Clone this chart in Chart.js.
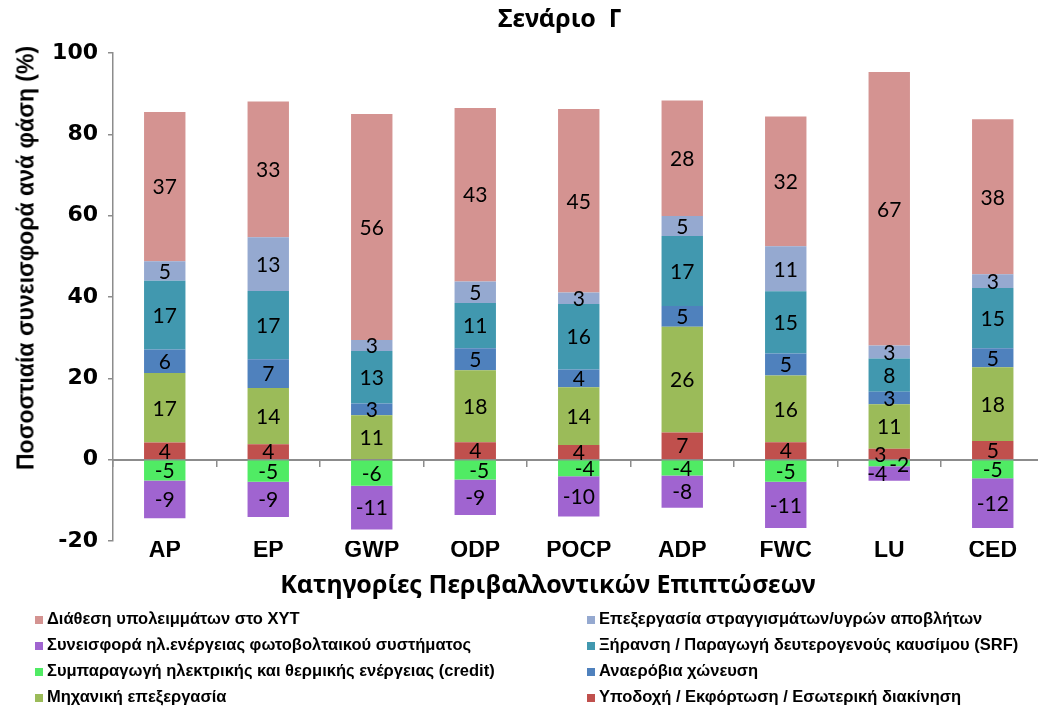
<!DOCTYPE html>
<html lang="el">
<head>
<meta charset="utf-8">
<title>Σενάριο Γ</title>
<script src="https://cdn.jsdelivr.net/npm/chart.js@4.4.1/dist/chart.umd.min.js"></script>
<style>
  html, body { margin: 0; padding: 0; background: #fff; overflow: hidden; }
  #wrap { position: relative; width: 1038px; height: 708px; overflow: hidden; }
  #chart { position: absolute; left: 0; top: 0; }
  .caption { position: absolute; color: #000; white-space: nowrap; font-weight: bold; line-height: 1; }
  #mainTitle { left: 560px; top: 5px; font-family: 'Noto Sans', sans-serif; font-size: 25px; transform: translateX(-50%); }
  #yTitle { left: 26px; top: 258px; font-family: 'Liberation Sans', Arial, sans-serif; font-size: 23px; transform: translate(-50%, -50%) rotate(-90deg); }
  #xTitle { left: 548px; top: 583px; font-family: 'Noto Sans', sans-serif; font-size: 25px; transform: translate(-50%, -50%); }
  .legend-item { position: absolute; height: 26px; line-height: 26px; font: bold 16.5px 'Liberation Sans', Arial, sans-serif; color: #000; white-space: nowrap; }
  .legend-item i { display: inline-block; width: 8px; height: 8px; margin-right: 4px; vertical-align: 0; }
</style>
</head>
<body>
<div id="wrap">
  <canvas id="chart" width="1046" height="708"></canvas>
  <div id="mainTitle" class="caption">Σενάριο&nbsp;&nbsp;Γ</div>
  <div id="yTitle" class="caption">Ποσοστιαία συνεισφορά ανά φάση (%)</div>
  <div id="xTitle" class="caption">Κατηγορίες Περιβαλλοντικών Επιπτώσεων</div>
  <div id="legend"></div>
</div>
<script>
const categories = ['AP', 'EP', 'GWP', 'ODP', 'POCP', 'ADP', 'FWC', 'LU', 'CED'];

// contribution per phase (%), positive phases stacked bottom to top
const reception    = [4.2, 3.8, 0, 4.3, 3.6, 6.7, 4.3, 2.7, 4.6];
const mechanical   = [17.1, 13.8, 10.9, 17.7, 14.2, 26.0, 16.4, 10.9, 18.1];
const anaerobic    = [5.8, 7.1, 2.9, 5.4, 4.4, 5.1, 5.4, 3.1, 4.7];
const drying       = [16.9, 16.8, 12.9, 11.1, 16.1, 17.2, 15.3, 8.2, 14.8];
const leachate     = [4.8, 13.2, 2.7, 5.3, 2.8, 4.9, 11.1, 3.2, 3.4];
const landfill     = [36.7, 33.4, 55.6, 42.7, 45.1, 28.4, 31.9, 67.2, 38.1];
// credits (negative)
const chp          = [-5.1, -5.4, -6.4, -4.9, -4.1, -3.9, -5.4, -1.6, -4.6];
const photovoltaic = [-9.3, -8.7, -10.8, -8.7, -9.9, -7.9, -11.4, -3.6, -12.2];

const yTicks = [-20, 0, 20, 40, 60, 80, 100];

const AXIS_GREY = '#8c8c8c';

const datasets = [
  { label: 'Υποδοχή / Εκφόρτωση / Εσωτερική διακίνηση', data: reception, backgroundColor: '#c0504d' },
  { label: 'Μηχανική επεξεργασία', data: mechanical, backgroundColor: '#9bbb59' },
  { label: 'Αναερόβια χώνευση', data: anaerobic, backgroundColor: '#4f81bd' },
  { label: 'Ξήρανση / Παραγωγή δευτερογενούς καυσίμου (SRF)', data: drying, backgroundColor: '#4198af' },
  { label: 'Επεξεργασία στραγγισμάτων/υγρών αποβλήτων', data: leachate, backgroundColor: '#95a9d0' },
  { label: 'Διάθεση υπολειμμάτων στο ΧΥΤ', data: landfill, backgroundColor: '#d49391' },
  { label: 'Συμπαραγωγή ηλεκτρικής και θερμικής ενέργειας (credit)', data: chp, backgroundColor: '#50eb64' },
  { label: 'Συνεισφορά ηλ.ενέργειας φωτοβολταικού συστήματος', data: photovoltaic, backgroundColor: '#a064d0' },
];

// legend reads row by row, two columns
const legendOrder = [5, 4, 7, 3, 6, 2, 1, 0];

// a few labels sit off-centre so they don't collide (category -> dataset index -> [dx, dy])
const labelNudge = {
  LU: { 0: [-9, 0], 6: [10, 1], 7: [-12, 0] },
  POCP: { 6: [6, 0] },
  ODP: { 6: [4, 0] },
};

const segmentLabels = {
  id: 'segmentLabels',
  afterDatasetsDraw(chart) {
    const { ctx } = chart;
    ctx.save();
    ctx.font = '21px Lato, "Noto Sans", sans-serif';
    ctx.fillStyle = '#000';
    ctx.textAlign = 'center';
    ctx.textBaseline = 'middle';
    chart.data.datasets.forEach((ds, di) => {
      const meta = chart.getDatasetMeta(di);
      meta.data.forEach((bar, i) => {
        const v = ds.data[i];
        if (Math.abs(v) < 0.5) return;
        const nudge = (labelNudge[categories[i]] || {})[di] || [0, 0];
        const y = (bar.y + bar.base) / 2;
        ctx.fillText(String(Math.round(v)), bar.x + nudge[0], y + nudge[1] + 1);
      });
    });
    ctx.restore();
  },
};

new Chart(document.getElementById('chart'), {
  type: 'bar',
  data: { labels: categories, datasets },
  options: {
    responsive: false,
    animation: false,
    layout: { padding: { left: 0, top: 53, right: 1.5, bottom: 137 } },
    datasets: { bar: { barPercentage: 0.4, categoryPercentage: 1, stack: 'phases' } },
    plugins: { legend: { display: false }, tooltip: { enabled: false }, title: { display: false } },
    scales: {
      x: {
        type: 'category',
        stacked: true,
        position: { y: 0 },
        grid: { display: true, drawOnChartArea: false, drawTicks: true, tickLength: 6, color: AXIS_GREY, lineWidth: 1.5, offset: true },
        border: { display: true, color: AXIS_GREY, width: 2 },
        ticks: { display: false },
      },
      xCat: {
        type: 'category',
        axis: 'x',
        position: 'bottom',
        labels: categories,
        grid: { display: false, drawTicks: false },
        border: { display: false },
        ticks: { color: '#000', padding: -4, font: { family: '"Liberation Sans", Arial, sans-serif', size: 23, weight: 'bold' } },
        afterFit(scale) { scale.height = 30; },
      },
      y: {
        stacked: true,
        min: -20,
        max: 100,
        afterBuildTicks(scale) { scale.ticks = yTicks.map(value => ({ value })); },
        grid: { drawOnChartArea: false, tickLength: 5, color: AXIS_GREY, lineWidth: 1.5 },
        border: { color: AXIS_GREY, width: 1.5 },
        ticks: { color: '#000', padding: 10, font: { family: '"DejaVu Sans", sans-serif', size: 22, weight: 'bold' } },
        afterFit(scale) { scale.width = 113; },
      },
    },
  },
  plugins: [segmentLabels],
});

const legendEl = document.getElementById('legend');
legendOrder.forEach((di, n) => {
  const ds = datasets[di];
  const item = document.createElement('div');
  item.className = 'legend-item';
  item.style.left = (n % 2 === 0 ? 35 : 587) + 'px';
  item.style.top = (609 + Math.floor(n / 2) * 26) + 'px';
  const sw = document.createElement('i');
  sw.style.background = ds.backgroundColor;
  item.append(sw, document.createTextNode(ds.label));
  legendEl.append(item);
});
</script>
</body>
</html>
